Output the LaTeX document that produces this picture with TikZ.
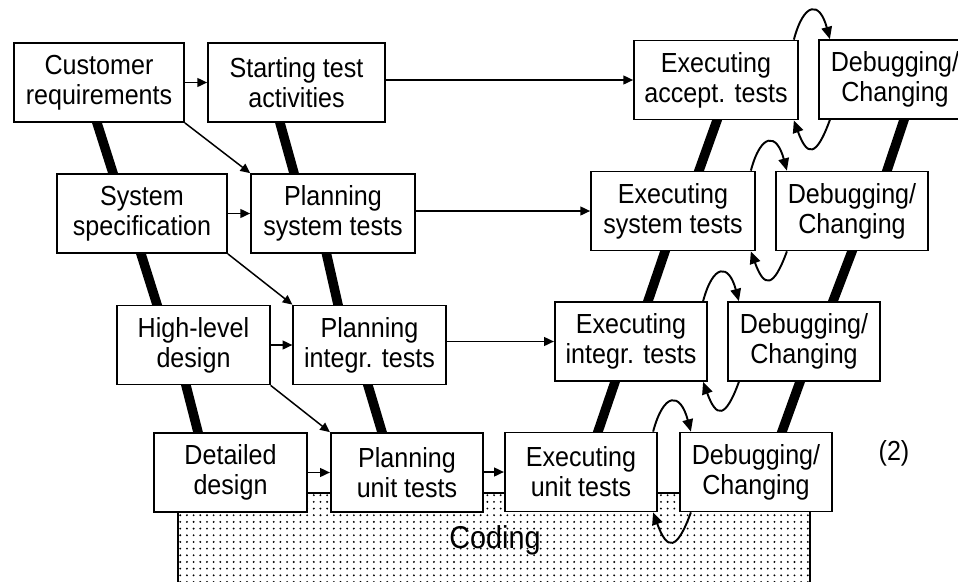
\documentclass[tikz,border=0pt]{standalone}
\usepackage{fontspec}
\setmainfont{Liberation Sans}[FakeStretch=0.91]
\usepackage{tikz}
\usetikzlibrary{arrows.meta,patterns.meta}
\pgfdeclarelayer{background}
\pgfsetlayers{background,main}
\newcommand\boxfont{\fontsize{15.7}{17}\selectfont}
\tikzstyle{box}=[draw,fill=white,line width=1pt,align=center,minimum width=3.05cm,minimum height=1.58cm,inner sep=2pt,font=\boxfont]
\tikzstyle{arr}=[draw,line width=.85pt,-{Triangle[length=5.5pt,width=5pt]}]
\tikzstyle{redo}=[draw,line width=1.1pt,-{Triangle[length=7pt,width=6pt]},looseness=2.8]
\tikzstyle{spine}=[draw,line width=5.4pt,shorten <=-3pt,shorten >=-3pt]

\begin{document}
\begin{tikzpicture}[x=0.02cm,y=-0.02cm]
        \useasboundingbox (0,0) rectangle (958,582);
        \node[box,minimum width=3.4cm] (cr) at (99,82.5) {Customer\\requirements};
        \node[box,minimum width=3.54cm] (st) at (296.5,82.5) {Starting test\\activities};
        \node[box,minimum width=3.28cm] (ea) at (716,80) {Executing\\accept. tests};
        \node[box] (dc1) at (895,79.5) {Debugging/\\Changing};
        \node[box,minimum width=3.4cm] (ss) at (142,213.5) {System\\specification};
        \node[box,minimum width=3.28cm] (ps) at (333,213.5) {Planning\\system tests};
        \node[box,minimum width=3.28cm] (es) at (673,211) {Executing\\system tests};
        \node[box] (dc2) at (852,211) {Debugging/\\Changing};
        \node[box] (hl) at (193.5,345) {High-level\\design};
        \node[box] (pi) at (369.5,345) {Planning\\integr. tests};
        \node[box] (ei) at (631,341.5) {Executing\\integr. tests};
        \node[box] (dc3) at (804,341.5) {Debugging/\\Changing};
        \node[box] (dd) at (230.5,472.5) {Detailed\\design};
        \node[box] (pu) at (407,472.5) {Planning\\unit tests};
        \node[box] (eu) at (581,472) {Executing\\unit tests};
        \node[box] (dc4) at (756,472) {Debugging/\\Changing};
        \node[font=\boxfont] (lbl) at (894,453) {(2)};
        \node[font=\fontsize{18}{20}\selectfont,inner sep=1pt] (coding) at (495,540) {Coding};
        \draw[arr] (cr) to (st);
        \draw[arr] (st.east |- ea) to (ea);
        \draw[arr] (ss) to (ps);
        \draw[arr] (ps.east |- es) to (es);
        \draw[arr] (hl) to (pi);
        \draw[arr] (pi.east |- ei) to (ei);
        \draw[arr] (dd) to (pu);
        \draw[arr] (pu.east |- eu) to (eu);
        \draw[arr] (cr.south east) to (ps.north west);
        \draw[arr] (ss.south east) to (pi.north west);
        \draw[arr] (hl.south east) to (pu.north west);
        % test and fix cycles
        \draw[redo] ([shift={(-5,0)}]ea.north east) to[out=75,in=105] ([shift={(12,0)}]dc1.north west);
        \draw[redo] ([shift={(12,0)}]dc1.south west) to[out=-110,in=-70] ([shift={(-5,0)}]ea.south east);
        \draw[redo] ([shift={(-5,0)}]es.north east) to[out=75,in=105] ([shift={(12,0)}]dc2.north west);
        \draw[redo] ([shift={(12,0)}]dc2.south west) to[out=-110,in=-70] ([shift={(-5,0)}]es.south east);
        \draw[redo] ([shift={(-5,0)}]ei.north east) to[out=75,in=105] ([shift={(12,0)}]dc3.north west);
        \draw[redo] ([shift={(12,0)}]dc3.south west) to[out=-110,in=-70] ([shift={(-5,0)}]ei.south east);
        \draw[redo] ([shift={(-5,0)}]eu.north east) to[out=75,in=105] ([shift={(12,0)}]dc4.north west);
        \draw[redo] ([shift={(12,0)}]dc4.south west) to[out=-110,in=-70] ([shift={(-5,0)}]eu.south east);
        \begin{pgfonlayer}{background}
        \fill[pattern={Dots[distance=3.8pt,radius=.6pt]},pattern color=black] (178,493) rectangle (810,582);
        \draw[line width=.9pt] (178,582) -- (178,493) -- (810,493) -- (810,582);
        \draw[spine] ([shift={(-2,0)}]cr.south) to ([shift={(-29,0)}]ss.north);
        \draw[spine] ([shift={(-1,0)}]ss.south) to ([shift={(-36.5,0)}]hl.north);
        \draw[spine] ([shift={(-7.5,0)}]hl.south) to ([shift={(-32.5,0)}]dd.north);
        \draw[spine] ([shift={(-16.5,0)}]st.south) to ([shift={(-39,0)}]ps.north);
        \draw[spine] ([shift={(-6.5,0)}]ps.south) to ([shift={(-31.5,0)}]pi.north);
        \draw[spine] ([shift={(-1.5,0)}]pi.south) to ([shift={(-25,0)}]pu.north);
        \draw[spine] ([shift={(1,0)}]ea.south) to ([shift={(26,0)}]es.north);
        \draw[spine] ([shift={(-8,0)}]es.south) to ([shift={(17,0)}]ei.north);
        \draw[spine] ([shift={(-16,0)}]ei.south) to ([shift={(17,0)}]eu.north);
        \draw[spine] ([shift={(9,0)}]dc1.south) to ([shift={(35,0)}]dc2.north);
        \draw[spine] (dc2.south) to ([shift={(29,0)}]dc3.north);
        \draw[spine] ([shift={(-4,0)}]dc3.south) to ([shift={(26,0)}]dc4.north);
        \end{pgfonlayer}
      \end{tikzpicture}
\end{document}
